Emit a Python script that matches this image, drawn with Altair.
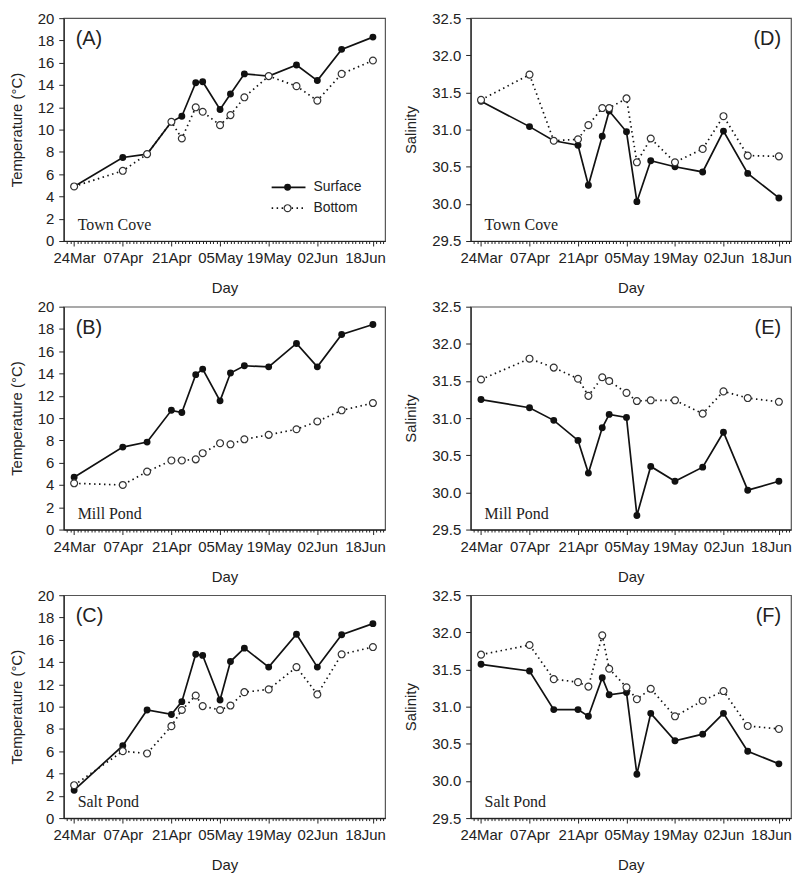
import altair as alt
import pandas as pd

# ---- data ----
DAYS = [0, 14, 21, 28, 31, 35, 37, 42, 45, 49, 56, 64, 70, 77, 86]  # days after 24 Mar
TICK_DAYS = [0, 14, 28, 42, 56, 70, 86]
TICK_LABELS = ["24Mar", "07Apr", "21Apr", "05May", "19May", "02Jun", "18Jun"]
SERIES = ["Surface", "Bottom"]

TOWN_T_SURF = [4.9, 7.5, 7.8, 10.7, 11.2, 14.2, 14.3, 11.8, 13.2, 15.0, 14.8, 15.8, 14.4, 17.2, 18.3]
TOWN_T_BOT = [4.9, 6.3, 7.8, 10.7, 9.2, 12.0, 11.6, 10.4, 11.3, 12.9, 14.8, 13.9, 12.6, 15.0, 16.2]
MILL_T_SURF = [4.7, 7.4, 7.85, 10.7, 10.5, 13.9, 14.4, 11.55, 14.05, 14.7, 14.6, 16.7, 14.6, 17.5, 18.4]
MILL_T_BOT = [4.15, 4.0, 5.2, 6.2, 6.2, 6.3, 6.85, 7.75, 7.65, 8.1, 8.5, 9.0, 9.7, 10.7, 11.35]
SALT_T_SURF = [2.5, 6.5, 9.7, 9.3, 10.45, 14.7, 14.6, 10.6, 14.05, 15.25, 13.55, 16.5, 13.55, 16.45, 17.45]
SALT_T_BOT = [2.95, 6.0, 5.8, 8.25, 9.7, 11.0, 10.05, 9.7, 10.1, 11.3, 11.55, 13.55, 11.1, 14.7, 15.35]

TOWN_S_SURF = [31.38, 31.04, 30.85, 30.79, 30.25, 30.91, 31.25, 30.97, 30.03, 30.58, 30.50, 30.43, 30.98, 30.41, 30.08]
TOWN_S_BOT = [31.40, 31.74, 30.85, 30.87, 31.06, 31.29, 31.29, 31.42, 30.56, 30.88, 30.56, 30.74, 31.18, 30.65, 30.64]
MILL_S_SURF = [31.25, 31.14, 30.97, 30.70, 30.26, 30.87, 31.05, 31.01, 29.69, 30.35, 30.15, 30.34, 30.81, 30.03, 30.15]
MILL_S_BOT = [31.52, 31.80, 31.68, 31.53, 31.30, 31.55, 31.50, 31.34, 31.23, 31.24, 31.24, 31.06, 31.36, 31.27, 31.22]
SALT_S_SURF = [31.57, 31.48, 30.96, 30.96, 30.87, 31.39, 31.16, 31.19, 30.09, 30.91, 30.54, 30.63, 30.91, 30.40, 30.23]
SALT_S_BOT = [31.70, 31.83, 31.37, 31.33, 31.27, 31.96, 31.51, 31.26, 31.10, 31.24, 30.87, 31.08, 31.21, 30.74, 30.70]

TEMP_TICKS = list(range(0, 21, 2))
SAL_TICKS = [29.5, 30.0, 30.5, 31.0, 31.5, 32.0, 32.5]

# ---- layout / style ----
W_L, W_R, H = 323, 322, 224
XDOM = [-3, 89.5]
INK = "#111111"
TXT = "#222222"

label_expr = " : ".join(f"datum.value == {d} ? '{l}'" for d, l in zip(TICK_DAYS, TICK_LABELS)) + " : ''"
major_test = " || ".join(f"datum.value == {d}" for d in TICK_DAYS)


def x_enc():
    return alt.X(
        "day:Q",
        scale=alt.Scale(domain=XDOM, nice=False, zero=False),
        axis=alt.Axis(
            title="Day",
            values=list(range(-2, 90)),
            labelExpr=label_expr,
            labelOverlap=False,
            labelFlush=False,
            labelBound=False,
            tickSize={"condition": {"test": major_test, "value": 5}, "value": 2.5},
            labelOffset={"condition": {"test": "datum.value == 86", "value": -8}, "value": 0},
            labelPadding=5,
            titlePadding=15,
        ),
    )


def y_enc(title, dom, ticks, fmt):
    return alt.Y(
        "value:Q",
        scale=alt.Scale(domain=dom, nice=False, zero=False),
        axis=alt.Axis(title=title, values=ticks, format=fmt, tickSize=5,
                      labelPadding=5, titlePadding=13),
    )


def panel(surf, bot, letter, site, ytitle, dom, ticks, fmt, width, right_letter, legend=False):
    ds = pd.DataFrame({"day": DAYS, "value": surf, "series": SERIES[0]})
    db = pd.DataFrame({"day": DAYS, "value": bot, "series": SERIES[1]})
    x = x_enc()
    y = y_enc(ytitle, dom, ticks, fmt)
    l_s = alt.Chart(ds).mark_line(color=INK, strokeWidth=1.7).encode(x=x, y=y)
    l_b = alt.Chart(db).mark_line(color=INK, strokeWidth=1.7, strokeDash=[1.5, 3.5]).encode(x=x, y=y)
    p_s = alt.Chart(ds).mark_circle(color=INK, size=48, opacity=1).encode(x=x, y=y)
    p_b = alt.Chart(db).mark_point(shape="circle", filled=True, fill="white", stroke="#333333",
                                   strokeWidth=1.2, size=48, opacity=1).encode(x=x, y=y)
    if right_letter:
        t_letter = alt.Chart(pd.DataFrame({"t": [letter]})).mark_text(
            align="right", baseline="middle", fontSize=20, font="Liberation Sans", color=TXT
        ).encode(text="t:N", x=alt.value(width - 10), y=alt.value(21))
    else:
        t_letter = alt.Chart(pd.DataFrame({"t": [letter]})).mark_text(
            align="left", baseline="middle", fontSize=20, font="Liberation Sans", color=TXT
        ).encode(text="t:N", x=alt.value(12), y=alt.value(21))
    t_site = alt.Chart(pd.DataFrame({"t": [site]})).mark_text(
        align="left", baseline="middle", fontSize=16, font="Liberation Serif", color=TXT
    ).encode(text="t:N", x=alt.value(14), y=alt.value(H - 16))
    layers = [l_s, l_b, p_s, p_b, t_letter, t_site]
    if legend:
        one_s = pd.DataFrame({"t": [SERIES[0]]})
        one_b = pd.DataFrame({"t": [SERIES[1]]})
        ys, yb = 170, 191
        layers += [
            alt.Chart(one_s).mark_rule(color=INK, strokeWidth=1.7).encode(
                x=alt.value(209), x2=alt.value(243), y=alt.value(ys)),
            alt.Chart(one_b).mark_rule(color=INK, strokeWidth=1.7, strokeDash=[1.5, 3.5]).encode(
                x=alt.value(209), x2=alt.value(243), y=alt.value(yb)),
            alt.Chart(one_s).mark_circle(color=INK, size=48, opacity=1).encode(
                x=alt.value(225), y=alt.value(ys)),
            alt.Chart(one_b).mark_point(shape="circle", filled=True, fill="white", stroke="#333333",
                                        strokeWidth=1.2, size=48, opacity=1).encode(
                x=alt.value(225), y=alt.value(yb)),
            alt.Chart(one_s).mark_text(align="left", baseline="middle", fontSize=14,
                                       font="Liberation Sans", color=TXT).encode(
                text="t:N", x=alt.value(251), y=alt.value(ys)),
            alt.Chart(one_b).mark_text(align="left", baseline="middle", fontSize=14,
                                       font="Liberation Sans", color=TXT).encode(
                text="t:N", x=alt.value(251), y=alt.value(yb)),
        ]
    return alt.layer(*layers).properties(width=width, height=H)


TEMP = "Temperature (°C)"
SAL = "Salinity"
TD = [0, 20]
SD = [29.5, 32.5]

pA = panel(TOWN_T_SURF, TOWN_T_BOT, "(A)", "Town Cove", TEMP, TD, TEMP_TICKS, "d", W_L, False, legend=True)
pD = panel(TOWN_S_SURF, TOWN_S_BOT, "(D)", "Town Cove", SAL, SD, SAL_TICKS, ".1f", W_R, True)
pB = panel(MILL_T_SURF, MILL_T_BOT, "(B)", "Mill Pond", TEMP, TD, TEMP_TICKS, "d", W_L, False)
pE = panel(MILL_S_SURF, MILL_S_BOT, "(E)", "Mill Pond", SAL, SD, SAL_TICKS, ".1f", W_R, True)
pC = panel(SALT_T_SURF, SALT_T_BOT, "(C)", "Salt Pond", TEMP, TD, TEMP_TICKS, "d", W_L, False)
pF = panel(SALT_S_SURF, SALT_S_BOT, "(F)", "Salt Pond", SAL, SD, SAL_TICKS, ".1f", W_R, True)

chart = alt.vconcat(
    alt.hconcat(pA, pD, spacing=17),
    alt.hconcat(pB, pE, spacing=17),
    alt.hconcat(pC, pF, spacing=17),
    spacing=2,
).configure_view(
    stroke="#555555", strokeWidth=1.2
).configure_axis(
    labelFont="Liberation Sans", titleFont="Liberation Sans",
    labelFontSize=15, titleFontSize=15, titleFontWeight="normal",
    labelColor=TXT, titleColor=TXT, domainColor=TXT, tickColor=TXT,
    domainWidth=1.2, tickWidth=1, grid=False,
).properties(background="white", padding=0)

chart.save("out.html", embed_options={"renderer": "svg", "actions": False})
